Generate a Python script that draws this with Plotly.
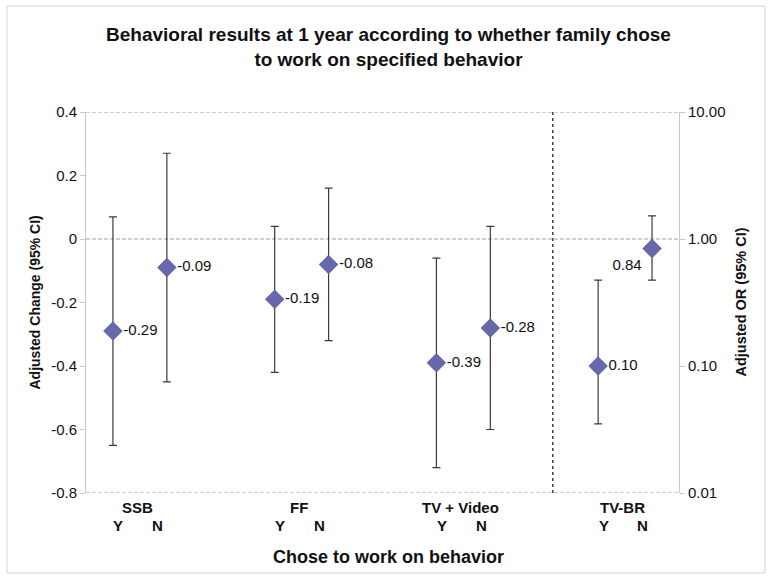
import plotly.graph_objects as go

# behaviours with adjusted change (left axis)
behaviors = ["SSB", "FF", "TV + Video"]
yes_change = [-0.29, -0.19, -0.39]
yes_low = [-0.65, -0.42, -0.72]
yes_high = [0.07, 0.04, -0.06]
no_change = [-0.09, -0.08, -0.28]
no_low = [-0.45, -0.32, -0.60]
no_high = [0.27, 0.16, 0.04]

# TV-BR reported as odds ratio (right axis, log)
or_label = "TV-BR"
or_values = [0.10, 0.84]
or_low = [0.035, 0.475]
or_high = [0.475, 1.52]

answers = ["Y", "N"]

FONT = "Liberation Sans, Arial, sans-serif"
MARK = "#6767AB"
BAR = "#3a3a3a"

# slot positions: Y/N pairs with an empty slot between groups
xs, vals, lo, hi, txt = [], [], [], [], []
for i in range(len(behaviors)):
    for j, (v, l, h) in enumerate([(yes_change[i], yes_low[i], yes_high[i]),
                                   (no_change[i], no_low[i], no_high[i])]):
        xs.append(i * 3 + j)
        vals.append(v)
        lo.append(v - l)
        hi.append(h - v)
        txt.append("%.2f" % v)

or_x = [9, 10]

fig = go.Figure()
fig.add_trace(go.Scatter(
    x=xs, y=vals, mode="markers+text", text=txt, textposition="middle right",
    textfont=dict(family=FONT, size=15, color="#111"),
    marker=dict(symbol="diamond", size=15, color=MARK),
    error_y=dict(type="data", symmetric=False, array=hi, arrayminus=lo,
                 color=BAR, thickness=1.2, width=4),
    cliponaxis=False, showlegend=False))

fig.add_trace(go.Scatter(
    x=or_x, y=or_values, yaxis="y2", mode="markers+text",
    text=["%.2f" % v for v in or_values],
    textposition=["middle right", "bottom left"],
    textfont=dict(family=FONT, size=15, color="#111"),
    marker=dict(symbol="diamond", size=15, color=MARK),
    error_y=dict(type="data", symmetric=False,
                 array=[h - v for h, v in zip(or_high, or_values)],
                 arrayminus=[v - l for v, l in zip(or_values, or_low)],
                 color=BAR, thickness=1.2, width=4),
    cliponaxis=False, showlegend=False))

# dashed reference lines and dotted separator
for yv in [0.4, 0, -0.8]:
    fig.add_shape(type="line", xref="paper", x0=0, x1=1, yref="y", y0=yv, y1=yv,
                  line=dict(color="#a0a0a0", width=1, dash="4px,2px"), layer="below")
fig.add_shape(type="line", xref="x", x0=8.16, x1=8.16, yref="paper", y0=0, y1=1,
              line=dict(color="#222", width=1.3, dash="dot"))
# outer chart frame
fig.add_shape(type="rect", xref="paper", yref="paper",
              x0=-79 / 593, x1=1 + 86 / 593, y0=-80 / 381, y1=1 + 106 / 381,
              line=dict(color="#d4d4d4", width=1))

# category labels under the axis
labels = behaviors + [or_label]
for i, name in enumerate(labels):
    c = i * 3 + 0.5 if i < 3 else 9.5
    fig.add_annotation(x=c - 0.05, y=-14 / 381, xref="x", yref="paper", text="<b>%s</b>" % name,
                       showarrow=False, font=dict(family=FONT, size=15, color="#111"), yanchor="middle")
    for k, a in enumerate(answers):
        fig.add_annotation(x=c + (-0.4 if k == 0 else 0.33), y=-32 / 381, xref="x", yref="paper",
                           text="<b>%s</b>" % a, showarrow=False,
                           font=dict(family=FONT, size=15, color="#111"), yanchor="middle")

fig.add_annotation(x=0.51, y=-64 / 381, xref="paper", yref="paper",
                   text="<b>Chose to work on behavior</b>", showarrow=False,
                   font=dict(family=FONT, size=18, color="#111"), yanchor="middle")
fig.add_annotation(x=0.51, y=1 + 65 / 381, xref="paper", yref="paper",
                   text="<b>Behavioral results at 1 year according to whether family chose<br>to work on specified behavior</b>",
                   showarrow=False, font=dict(family=FONT, size=19, color="#111"), yanchor="middle")
fig.add_annotation(x=-52 / 593, y=0.5, xref="paper", yref="paper", textangle=-90,
                   xanchor="center", yanchor="middle",
                   text="<b>Adjusted Change (95% CI)</b>", showarrow=False,
                   font=dict(family=FONT, size=14, color="#111"))
fig.add_annotation(x=1 + 61 / 593, y=0.5, xref="paper", yref="paper", textangle=-90,
                   xanchor="center", yanchor="middle",
                   text="<b>Adjusted OR (95% CI)</b>", showarrow=False,
                   font=dict(family=FONT, size=14.5, color="#111"))

fig.update_layout(
    width=772, height=579,
    margin=dict(l=86, r=93, t=112, b=86),
    paper_bgcolor="white", plot_bgcolor="white",
    font=dict(family=FONT, size=15, color="#111"),
    xaxis=dict(range=[-0.5, 10.5], showticklabels=False, showgrid=False,
               zeroline=False, showline=False, ticks=""),
    yaxis=dict(range=[-0.8, 0.4], tickvals=[-0.8, -0.6, -0.4, -0.2, 0, 0.2, 0.4],
               ticktext=["-0.8", "-0.6", "-0.4", "-0.2", "0", "0.2", "0.4"],
               showgrid=False, zeroline=False, showline=True, linecolor="#c8c8c8",
               ticks="outside", ticklen=5, tickcolor="#c8c8c8",
               tickfont=dict(family=FONT, size=15)),
    yaxis2=dict(overlaying="y", side="right", type="log", range=[-2, 1],
                tickvals=[0.01, 0.1, 1, 10], ticktext=["0.01", "0.10", "1.00", "10.00"],
                showgrid=False, zeroline=False, showline=True, linecolor="#c8c8c8",
                ticks="outside", ticklen=5, tickcolor="#c8c8c8",
                tickfont=dict(family=FONT, size=15)),
)

# drop the default page margin so the figure sits at the window corner
fig.write_html("out.html", config={"displayModeBar": False},
               post_script="document.body.style.margin='0';")
